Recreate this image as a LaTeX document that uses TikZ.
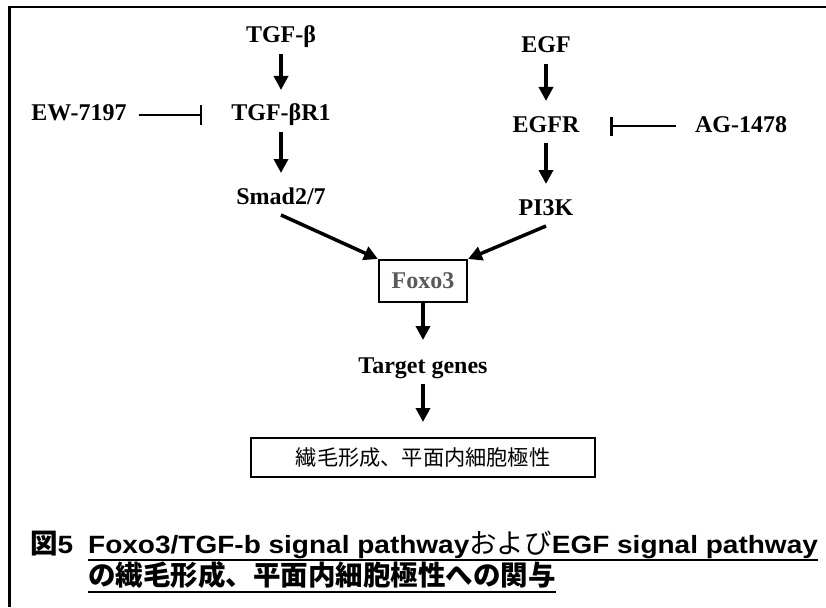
\documentclass[tikz,border=0pt]{standalone}
\usepackage{fontspec}
\setmainfont{Liberation Serif}
\newfontfamily\capfont[FakeStretch=1.12]{Liberation Sans}
\newfontfamily\jpfont{Noto Sans CJK JP}
\usetikzlibrary{arrows.meta}
\definecolor{foxogray}{HTML}{595959}
\newcommand{\jp}[1]{{\jpfont\fontsize{27.5}{30}\selectfont #1}}

\begin{document}
\begin{tikzpicture}
 [x=1pt,y=-1pt,
  mol/.style={inner sep=0pt, outer xsep=0pt, outer ysep=6pt, text height=17pt, text depth=5pt, font=\fontsize{24}{28}\selectfont\bfseries},
  box node/.style={draw, line width=1.5pt, inner sep=0pt, outer sep=1pt},
  act/.style={-{Triangle[length=14pt,width=14pt]}, line width=3.5pt},
  inh/.style={-{Bar[width=19pt]}, line width=2.5pt},
  captext/.style={anchor=base west, inner sep=0pt, font=\capfont\bfseries\fontsize{25}{30}\selectfont}]

\useasboundingbox (0,0) rectangle (826,607);
\draw[line width=2.2pt] (9.5,607) -- (9.5,7) -- (826,7);

\node[mol] (tgf) at (281,37) {TGF-β};
\node[mol] (r1) [node distance=78pt, below of=tgf] {TGF-βR1};
\node[mol] (smad) [node distance=83pt, below of=r1] {Smad2/7};
\node[mol] (ew) [node distance=202pt, left of=r1] {EW-7197};

\node[mol] (egf) at (546,47) {EGF};
\node[mol] (egfr) [node distance=79pt, below of=egf] {EGFR};
\node[mol] (pik) [node distance=83pt, below of=egfr] {PI3K};
\node[mol] (ag) [node distance=195pt, right of=egfr] {AG-1478};

\node[box node, minimum width=88pt, minimum height=42pt, text=foxogray, font=\fontsize{24}{28}\selectfont\bfseries] (foxo) at (423,281) {Foxo3};
\node[mol] (target) [node distance=86pt, below of=foxo] {Target genes};
\node[box node, minimum width=344pt, minimum height=39pt] (cilia) [node distance=90.5pt, below of=target] {\jpfont\fontsize{21.2}{24}\selectfont 繊毛形成、平面内細胞極性};

\path
  (tgf) edge [act, shorten >=8pt] (r1)
  (r1) edge [act, shorten >=8pt] (smad)
  (egf) edge [act, shorten >=8pt] (egfr)
  (egfr) edge [act, shorten >=8pt] (pik)
  (smad.south) edge [act] (foxo.north west)
  (pik.south) edge [act] (foxo.north east)
  (foxo) edge [act, shorten >=10pt] (target)
  (target) edge [act, shorten >=15pt] (cilia)
  (ew) edge [inh, shorten <=12pt, shorten >=29pt] (r1)
  (ag) edge [inh, shorten <=19pt, shorten >=31pt] (egfr);

% caption
\node[captext] (fignum) at (30,553) {\jp{図}5};
\node[captext] (cap1) at (88,553) {Foxo3/TGF-b signal pathway\jp{\mdseries および}EGF signal pathway};
\node[captext] (cap2) at (88,585) {\jp{の繊毛形成、平面内細胞極性への関与}};
\draw[line width=1.5pt] ([yshift=-7pt]cap1.base west) -- ([yshift=-7pt]cap1.base east);
\draw[line width=1.5pt] ([yshift=-7pt]cap2.base west) -- ([yshift=-7pt]cap2.base east);

\end{tikzpicture}
\end{document}
